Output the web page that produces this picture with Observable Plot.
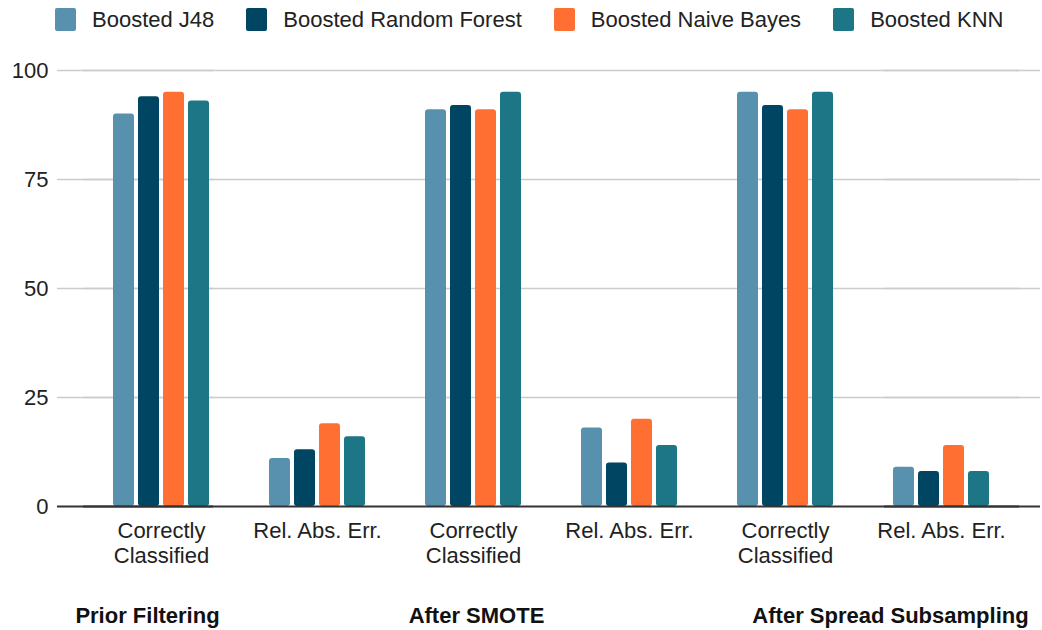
<!DOCTYPE html>
<html>
<head>
<meta charset="utf-8">
<script src="https://cdn.jsdelivr.net/npm/d3@7"></script>
<script src="https://cdn.jsdelivr.net/npm/@observablehq/plot@0.6"></script>
<style>
  html, body { margin: 0; padding: 0; background: #fff; }
  body { width: 1042px; height: 630px; overflow: hidden; font-family: "Liberation Sans", Arial, sans-serif; }
  #legend { height: 50px; display: flex; align-items: center; padding-left: 55px; box-sizing: border-box; padding-bottom: 11px; font-size: 22px; color: #222; }
  .item { display: flex; align-items: center; margin-right: 32px; }
  .sw { width: 21px; height: 23px; border-radius: 2px; margin-right: 16px; }
  svg { display: block; }
</style>
</head>
<body>
<div id="legend"></div>
<div id="chart"></div>
<script>
const conditions = ["Prior Filtering", "After SMOTE", "After Spread Subsampling"];
const metrics = ["Correctly\nClassified", "Rel. Abs. Err."];
const series = ["Boosted J48", "Boosted Random Forest", "Boosted Naive Bayes", "Boosted KNN"];
const colors = ["#5891AD", "#004561", "#FF6F31", "#1C7685"];
// values in order: Prior CC, Prior RAE, SMOTE CC, SMOTE RAE, Spread CC, Spread RAE
const j48 = [90, 11, 91, 18, 95, 9];
const randomForest = [94, 13, 92, 10, 92, 8];
const naiveBayes = [95, 19, 91, 20, 91, 14];
const knn = [93, 16, 95, 14, 95, 8];
const yTicks = [0, 25, 50, 75, 100];

const seriesValues = [j48, randomForest, naiveBayes, knn];
const keys = [];
conditions.forEach(c => metrics.forEach(m => keys.push(c + "|" + m)));
const data = [];
seriesValues.forEach((vals, si) => {
  vals.forEach((v, i) => data.push({key: keys[i], series: series[si], value: v}));
});

// legend
const legend = document.getElementById("legend");
series.forEach((s, i) => {
  const it = document.createElement("div");
  it.className = "item";
  it.innerHTML = `<div class="sw" style="background:${colors[i]}"></div><span>${s}</span>`;
  legend.appendChild(it);
});

const ccKey = c => c + "|" + metrics[0];
const gridTicks = yTicks.slice(1);
const gridAll = keys.flatMap(k => gridTicks.map(t => ({key: k, t})));
const gridFirst = gridTicks.map(t => ({key: keys[0], t}));
const gridLast = gridTicks.map(t => ({key: keys[keys.length - 1], t}));
const gridStyle = {fx: "key", y: "t", stroke: "#cccccc", strokeWidth: 1.5};
const baseAll = keys.map(k => ({key: k, t: 0}));
const baseStyle = {fx: "key", y: "t", stroke: "#333", strokeWidth: 2};

const chart = Plot.plot({
  width: 1042,
  height: 580,
  marginTop: 20,
  marginBottom: 124,
  marginLeft: 55,
  marginRight: 0,
  style: {fontFamily: "Liberation Sans, Arial, sans-serif", fontSize: "22px", color: "#222", background: "#fff"},
  fx: {domain: keys, range: [81, 1021], padding: 0, label: null},
  x: {domain: series, paddingInner: 0.154, paddingOuter: 1.09, label: null, axis: null},
  y: {domain: [0, 100], label: null},
  color: {domain: series, range: colors},
  marks: [
    Plot.ruleY(gridAll, gridStyle),
    Plot.ruleY(gridFirst, {...gridStyle, dx: -26}),
    Plot.ruleY(gridLast, {...gridStyle, dx: 21}),
    Plot.axisY({ticks: yTicks, tickSize: 0, tickPadding: 35, fontSize: 22, fill: "#222", label: null}),
    Plot.barY(data, {fx: "key", x: "series", y: "value", fill: "series", rx: 3}),
    Plot.ruleY(baseAll, baseStyle),
    Plot.ruleY([baseAll[0]], {...baseStyle, dx: -26}),
    Plot.ruleY([baseAll[baseAll.length - 1]], {...baseStyle, dx: 21}),
    Plot.axisFx({anchor: "bottom", tickSize: 0, tickPadding: 14, fontSize: 22, fill: "#222", lineHeight: 1.14, label: null,
      tickFormat: d => d.split("|")[1]}),
    Plot.text([conditions[0]], {fx: [ccKey(conditions[0])], text: d => d, frameAnchor: "bottom", dy: 116, dx: -14, fontWeight: "bold", fontSize: 22, fill: "#111"}),
    Plot.text([conditions[1]], {fx: [ccKey(conditions[1])], text: d => d, frameAnchor: "bottom", dy: 116, dx: 3, fontWeight: "bold", fontSize: 22, fill: "#111"}),
    Plot.text([conditions[2]], {fx: [ccKey(conditions[2])], text: d => d, frameAnchor: "bottom", dy: 116, dx: 105, fontWeight: "bold", fontSize: 22, fill: "#111"})
  ]
});
document.getElementById("chart").appendChild(chart);
</script>
</body>
</html>
